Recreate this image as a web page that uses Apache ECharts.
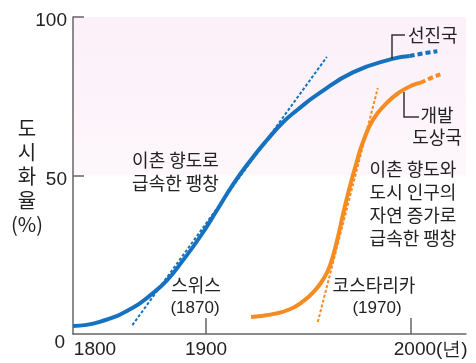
<!DOCTYPE html>
<html><head><meta charset="utf-8">
<script src="https://cdn.jsdelivr.net/npm/echarts@6/dist/echarts.min.js"></script>
<style>html,body{margin:0;padding:0;background:#fff}#c{width:476px;height:363px}</style>
</head><body><div id="c"></div>
<script>
// ---- data (years are schematic: the axis starts at the "1800" label) ----
const developedSolid = [[1835,2.5],[1848,3.8],[1864,8.2],[1872.7,12.2],[1881,17],[1888.8,23.3],[1897,30.6],[1905.4,39.1],[1913.2,47.2],[1921.5,54.6],[1929.8,61.2],[1937.6,66.8],[1944.4,70.6],[1955,75.8],[1972,82.6],[1991,86.8],[1999.5,87.7]];
const developedProjected = [[1999.5,87.7],[2006,88.5],[2013,89.2]];
const developingSolid = [[1922,5.4],[1932,6.2],[1941,7.8],[1948,10.6],[1953,13.6],[1957,17],[1960.5,21.5],[1964,29.5],[1967,38],[1970.2,46.4],[1973.7,54.5],[1976.6,60.4],[1981.5,67.5],[1988.3,72.9],[1994.6,76.3],[2001,78.5],[2005,79.3]];
const developingProjected = [[2005,79.3],[2010,80.8],[2015,82]];
const swissTangent = [[1864,2.8],[1959,87.4]];
const costaRicaTangent = [[1954.6,3.8],[1983.9,77.6]];
const xLabelValues = [1835, 1900, 2000];
const xLabelTexts = ['1800', '1900', '2000(년)'];
const xTickValues = [1900, 2000];
const yTickValues = [50, 100];

const BLUE = '#1672bf', ORANGE = '#f68b21', AX = '#666', TXT = '#222';
const KR = '"Noto Sans CJK KR", "Noto Sans", sans-serif';
const NUM = '"Liberation Sans", Arial, sans-serif';

const chart = echarts.init(document.getElementById('c'), null, {renderer: 'canvas'});
function txt(text, x, y, opts) {
  return {type: 'text', z: 100, style: Object.assign({text, x, y, fill: TXT, font: '18px ' + KR, align: 'center', verticalAlign: 'middle', lineHeight: 23}, opts || {})};
}
chart.setOption({
  animation: false,
  grid: {left: 73, right: 10, top: 17, bottom: 29},
  xAxis: {
    type: 'value', min: 1835, max: 2027,
    splitLine: {show: false},
    axisLine: {lineStyle: {color: AX, width: 1.5}},
    axisTick: {show: true, inside: true, length: 16, customValues: xTickValues, lineStyle: {color: AX, width: 1.5}},
    axisLabel: {
      customValues: xLabelValues, margin: 6, color: TXT, fontSize: 19, fontFamily: NUM,
      formatter: v => {
        const i = xLabelValues.indexOf(v);
        const t = i >= 0 ? xLabelTexts[i] : '';
        if (i === 0) return '{l|' + t + '}';
        if (i === 2) return '{r|' + t + '}';
        return '{c|' + t + '}';
      },
      rich: {
        l: {fontSize: 19, fontFamily: NUM, color: TXT, padding: [0, 0, 0, 44]},
        c: {fontSize: 19, fontFamily: NUM, color: TXT},
        r: {fontSize: 19, fontFamily: NUM, color: TXT, padding: [0, 0, 0, 40]}
      }
    }
  },
  yAxis: {
    type: 'value', min: 0, max: 100, interval: 50,
    splitLine: {show: false},
    axisLine: {show: true, lineStyle: {color: AX, width: 1.5}},
    axisTick: {show: true, inside: true, length: 11, customValues: yTickValues, lineStyle: {color: AX, width: 1.5}},
    axisLabel: {
      margin: 6, color: TXT, fontSize: 19, fontFamily: NUM,
      formatter: v => v === 0 ? '{z|0}' : '{n|' + v + '}',
      rich: {
        z: {fontSize: 19, fontFamily: NUM, color: TXT, padding: [18, 2, 0, 0]},
        n: {fontSize: 19, fontFamily: NUM, color: TXT, padding: [8, 0, 0, 0]}
      }
    }
  },
  series: [
    {type: 'line', data: developedSolid, smooth: 0.5, symbol: 'none', z: 3,
     lineStyle: {color: BLUE, width: 4}, itemStyle: {color: BLUE},
     markArea: {silent: true, z: 0, itemStyle: {color: {type: 'linear', x: 0, y: 0, x2: 0, y2: 1, colorStops: [{offset: 0, color: '#fcf0f9'}, {offset: 1, color: '#fdf7fb'}]}},
       data: [[{yAxis: 50}, {yAxis: 100}]]}},
    {type: 'line', data: developedProjected, smooth: 0.5, symbol: 'none', z: 3,
     lineStyle: {color: BLUE, width: 4, type: [5, 3]}},
    {type: 'line', data: developingSolid, smooth: 0.5, symbol: 'none', z: 3,
     lineStyle: {color: ORANGE, width: 4}},
    {type: 'line', data: developingProjected, smooth: 0.5, symbol: 'none', z: 3,
     lineStyle: {color: ORANGE, width: 4, type: [5, 3]}},
    {type: 'line', data: swissTangent, symbol: 'none', z: 2,
     lineStyle: {color: BLUE, width: 2, type: [3, 2]}},
    {type: 'line', data: costaRicaTangent, symbol: 'none', z: 2,
     lineStyle: {color: ORANGE, width: 2, type: [3, 2]}}
  ],
  graphic: [
    txt('도\n시\n화\n율\n(%)', 27, 176.5, {font: '20px ' + KR, lineHeight: 24}),
    txt('이촌 향도로\n급속한 팽창', 175.5, 171.5),
    txt('이촌 향도와\n도시 인구의\n자연 증가로\n급속한 팽창', 413, 204),
    txt('스위스', 196, 285),
    txt('(1870)', 195, 308, {font: '17px ' + NUM}),
    txt('코스타리카', 374, 285),
    txt('(1970)', 377, 308, {font: '17px ' + NUM}),
    txt('선진국', 408, 35, {align: 'left'}),
    txt('개발\n도상국', 437, 126, {lineHeight: 22}),
    {type: 'polyline', z: 100, shape: {points: [[392, 59], [392, 35], [405, 35]]}, style: {stroke: '#333', lineWidth: 1.5, fill: null}},
    {type: 'polyline', z: 100, shape: {points: [[404, 92], [404, 117], [419, 117]]}, style: {stroke: '#333', lineWidth: 1.5, fill: null}}
  ]
});
</script>
</body></html>
